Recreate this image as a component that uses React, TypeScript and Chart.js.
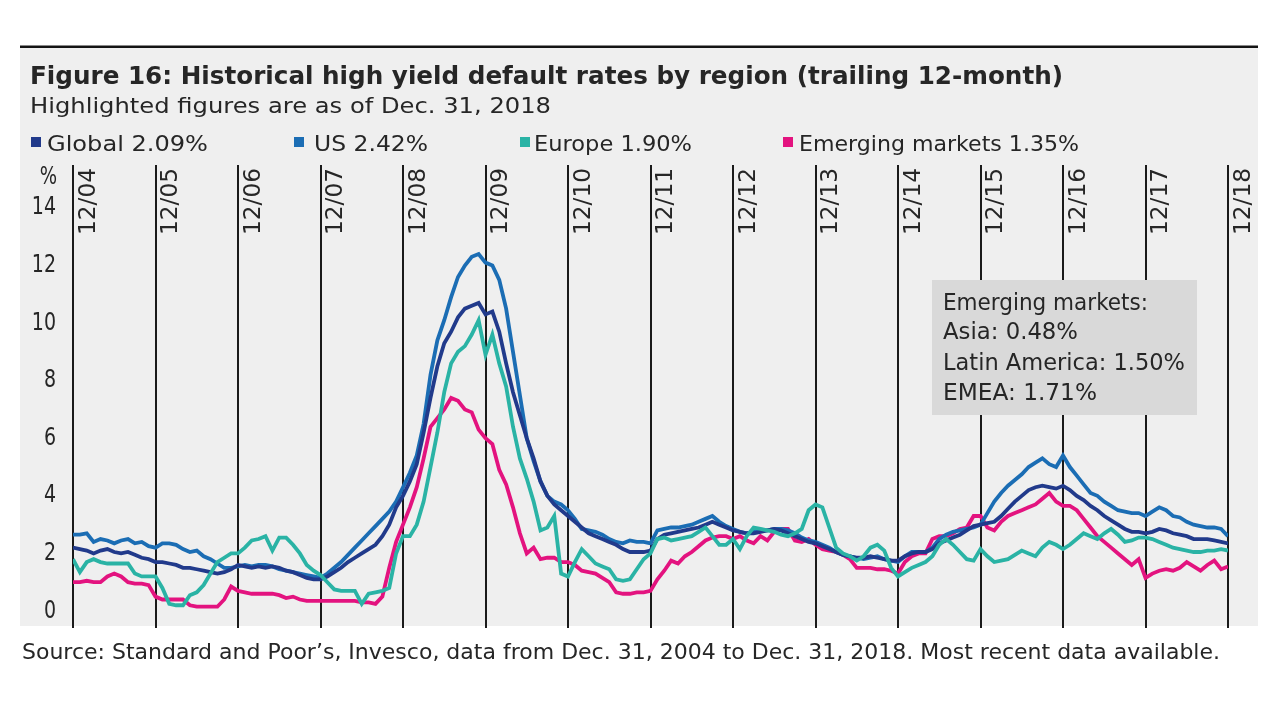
import React, { useEffect, useRef } from "react";
import { Chart, registerables } from "chart.js";

Chart.register(...registerables);

// ---------- DATA ----------
const yearLabels = ["12/04", "12/05", "12/06", "12/07", "12/08", "12/09", "12/10", "12/11", "12/12", "12/13", "12/14", "12/15", "12/16", "12/17", "12/18"];
const yearTickMonths = [0, 12, 24, 36, 48, 60, 72, 84, 96, 108, 120, 132, 144, 156, 168];
const yTicks = [0, 2, 4, 6, 8, 10, 12, 14];

const seriesNames = ["Global", "US", "Europe", "Emerging markets"];
const seriesLatest = ["2.09%", "2.42%", "1.90%", "1.35%"];
const seriesColors = ["#213a8b", "#1b6db4", "#2ab3a5", "#e3137f"];

// monthly, Dec 2004 .. Dec 2018
const globalRates = [
  2.2, 2.15, 2.1, 2.0, 2.1, 2.15, 2.05, 2.0, 2.05, 1.95, 1.85, 1.8,
  1.7, 1.7, 1.65, 1.6, 1.5, 1.5, 1.45, 1.4, 1.35, 1.3, 1.35, 1.45,
  1.6, 1.55, 1.5, 1.55, 1.5, 1.55, 1.5, 1.4, 1.35, 1.25, 1.15, 1.1,
  1.1, 1.2, 1.35, 1.5, 1.7, 1.85, 2.0, 2.15, 2.3, 2.6, 3.0, 3.6,
  4.0, 4.5, 5.1, 6.2, 7.4, 8.5, 9.3, 9.7, 10.2, 10.5, 10.6, 10.7,
  10.3, 10.4, 9.7, 8.6, 7.6, 6.8, 6.0, 5.3, 4.5, 4.0, 3.7, 3.5,
  3.3, 3.1, 2.9, 2.7, 2.6, 2.5, 2.4, 2.3, 2.15, 2.05, 2.05, 2.05,
  2.1, 2.5, 2.65, 2.7, 2.75, 2.8, 2.85, 2.9, 3.0, 3.1, 3.0, 2.9,
  2.8, 2.75, 2.7, 2.7, 2.75, 2.8, 2.85, 2.8, 2.7, 2.6, 2.5, 2.4,
  2.35, 2.25, 2.15, 2.05, 1.95, 1.9, 1.85, 1.85, 1.9, 1.85, 1.8, 1.75,
  1.75, 1.9, 2.0, 2.05, 2.05, 2.15, 2.35, 2.45, 2.55, 2.65, 2.8, 2.95,
  3.0, 3.05, 3.1, 3.3, 3.55, 3.8, 4.0, 4.2, 4.3, 4.35, 4.3, 4.25,
  4.35, 4.2, 4.0, 3.85, 3.65, 3.5, 3.3, 3.15, 3.0, 2.85, 2.75, 2.75,
  2.7, 2.75, 2.85, 2.8, 2.7, 2.65, 2.6, 2.5, 2.5, 2.5, 2.45, 2.4, 2.35,
];

const usRates = [
  2.65, 2.65, 2.7, 2.4, 2.5, 2.45, 2.35, 2.45, 2.5, 2.35, 2.4, 2.25,
  2.2, 2.35, 2.35, 2.3, 2.15, 2.05, 2.1, 1.9, 1.8, 1.65, 1.5, 1.5,
  1.55, 1.6, 1.55, 1.6, 1.6, 1.55, 1.45, 1.4, 1.35, 1.3, 1.25, 1.2,
  1.15, 1.3, 1.5, 1.7, 1.95, 2.2, 2.45, 2.7, 2.95, 3.2, 3.45, 3.8,
  4.3, 4.8, 5.4, 6.5, 8.2, 9.4, 10.1, 10.9, 11.6, 12.0, 12.3, 12.4,
  12.1, 12.0, 11.5, 10.5, 9.0, 7.5, 6.0, 5.2, 4.5, 4.0, 3.8, 3.7,
  3.5, 3.2, 2.85, 2.8, 2.75, 2.65, 2.5, 2.4, 2.35, 2.45, 2.4, 2.4,
  2.35, 2.8, 2.85, 2.9, 2.9, 2.95, 3.0, 3.1, 3.2, 3.3, 3.1, 2.95,
  2.85, 2.75, 2.7, 2.75, 2.8, 2.8, 2.85, 2.85, 2.8, 2.7, 2.55, 2.45,
  2.4, 2.3, 2.2, 2.05, 1.95, 1.9, 1.85, 1.8, 1.85, 1.9, 1.8, 1.75,
  1.7, 1.9, 2.05, 2.05, 2.05, 2.2, 2.5, 2.65, 2.75, 2.8, 2.85, 2.9,
  3.0, 3.4, 3.8, 4.1, 4.35, 4.55, 4.75, 5.0, 5.15, 5.3, 5.1, 5.0,
  5.4, 5.0, 4.7, 4.4, 4.1, 4.0, 3.8, 3.65, 3.5, 3.45, 3.4, 3.4,
  3.3, 3.45, 3.6, 3.5, 3.3, 3.25, 3.1, 3.0, 2.95, 2.9, 2.9, 2.85, 2.6,
];

const europeRates = [
  1.8, 1.35, 1.7, 1.8, 1.7, 1.65, 1.65, 1.65, 1.65, 1.3, 1.2, 1.2,
  1.2, 0.8, 0.25, 0.2, 0.2, 0.55, 0.65, 0.9, 1.3, 1.7, 1.85, 2.0,
  2.0, 2.2, 2.45, 2.5, 2.6, 2.1, 2.55, 2.55, 2.3, 2.0, 1.6, 1.4,
  1.25, 1.0, 0.75, 0.7, 0.7, 0.7, 0.25, 0.6, 0.65, 0.7, 0.8, 2.0,
  2.6, 2.6, 3.0, 3.8, 5.0, 6.2, 7.6, 8.6, 9.0, 9.2, 9.6, 10.1,
  8.9, 9.6, 8.6, 7.8, 6.4, 5.3, 4.6, 3.8, 2.8, 2.9, 3.3, 1.3,
  1.2, 1.7, 2.15, 1.9, 1.65, 1.55, 1.45, 1.1, 1.05, 1.1, 1.45, 1.8,
  2.0, 2.5, 2.55, 2.45, 2.5, 2.55, 2.6, 2.75, 2.9, 2.6, 2.3, 2.3,
  2.5, 2.15, 2.6, 2.9, 2.85, 2.8, 2.75, 2.65, 2.6, 2.7, 2.85, 3.5,
  3.7, 3.6, 2.9, 2.2, 2.0, 1.9, 1.75, 1.9, 2.2, 2.3, 2.1, 1.5,
  1.2, 1.35, 1.5, 1.6, 1.7, 1.9, 2.3, 2.5, 2.3, 2.05, 1.8, 1.75,
  2.15, 1.9, 1.7, 1.75, 1.8, 1.95, 2.1, 2.0, 1.9, 2.2, 2.4, 2.3,
  2.15, 2.3, 2.5, 2.7, 2.6, 2.5, 2.7, 2.85, 2.65, 2.4, 2.45, 2.55,
  2.55, 2.5, 2.4, 2.3, 2.2, 2.15, 2.1, 2.05, 2.05, 2.1, 2.1, 2.15, 2.1,
];

const emergingRates = [
  1.0, 1.0, 1.05, 1.0, 1.0, 1.2, 1.3, 1.2, 1.0, 0.95, 0.95, 0.9,
  0.5, 0.4, 0.4, 0.4, 0.4, 0.2, 0.15, 0.15, 0.15, 0.15, 0.4, 0.85,
  0.7, 0.65, 0.6, 0.6, 0.6, 0.6, 0.55, 0.45, 0.5, 0.4, 0.35, 0.35,
  0.35, 0.35, 0.35, 0.35, 0.35, 0.35, 0.3, 0.3, 0.25, 0.5, 1.5, 2.4,
  3.0, 3.6, 4.3, 5.3, 6.4, 6.7, 7.0, 7.4, 7.3, 7.0, 6.9, 6.3,
  6.0, 5.8, 4.9, 4.4, 3.6, 2.7, 2.0, 2.2, 1.8, 1.85, 1.85, 1.7,
  1.7, 1.6, 1.4, 1.35, 1.3, 1.15, 1.0, 0.65, 0.6, 0.6, 0.65, 0.65,
  0.7, 1.1, 1.4, 1.75, 1.65, 1.9, 2.05, 2.25, 2.45, 2.55, 2.6, 2.6,
  2.5, 2.6, 2.45, 2.35, 2.6, 2.45, 2.75, 2.85, 2.85, 2.45, 2.4, 2.5,
  2.3, 2.15, 2.1, 2.05, 1.95, 1.8, 1.5, 1.5, 1.5, 1.45, 1.45, 1.4,
  1.3, 1.7, 1.9, 2.0, 2.0, 2.5, 2.6, 2.6, 2.7, 2.85, 2.9, 3.3,
  3.3, 2.9, 2.8, 3.1, 3.3, 3.4, 3.5, 3.6, 3.7, 3.9, 4.1, 3.8,
  3.65, 3.65, 3.5, 3.2, 2.9, 2.6, 2.4, 2.2, 2.0, 1.8, 1.6, 1.8,
  1.15, 1.3, 1.4, 1.45, 1.4, 1.5, 1.7, 1.55, 1.4, 1.6, 1.75, 1.45, 1.55,
];

const seriesData = [globalRates, usRates, europeRates, emergingRates];

const titleText = "Figure 16: Historical high yield default rates by region (trailing 12-month)";
const subtitleText = "Highlighted figures are as of Dec. 31, 2018";
const sourceText = "Source: Standard and Poor\u2019s, Invesco, data from Dec. 31, 2004 to Dec. 31, 2018. Most recent data available.";
const boxLines = ["Emerging markets:", "Asia: 0.48%", "Latin America: 1.50%", "EMEA: 1.71%"];

// ---------- helpers ----------
const FONT = "'DejaVu Sans', Verdana, sans-serif";
const TEXT = "#262626";

function fitText(
  ctx: CanvasRenderingContext2D,
  text: string,
  x: number,
  y: number,
  width: number,
  font: string,
  color: string,
  baseline: CanvasTextBaseline = "alphabetic"
) {
  ctx.save();
  ctx.font = font;
  ctx.fillStyle = color;
  ctx.textAlign = "left";
  ctx.textBaseline = baseline;
  const w = ctx.measureText(text).width || 1;
  ctx.translate(x, y);
  ctx.scale(width / w, 1);
  ctx.fillText(text, 0, 0);
  ctx.restore();
}

function scaledTextRight(
  ctx: CanvasRenderingContext2D,
  text: string,
  right: number,
  y: number,
  sx: number,
  font: string,
  color: string
) {
  ctx.save();
  ctx.font = font;
  ctx.fillStyle = color;
  ctx.textAlign = "right";
  ctx.textBaseline = "middle";
  ctx.translate(right, y);
  ctx.scale(sx, 1);
  ctx.fillText(text, 0, 0);
  ctx.restore();
}

const framePlugin = {
  id: "frame",
  beforeDraw(chart: any) {
    const ctx: CanvasRenderingContext2D = chart.ctx;
    ctx.save();
    ctx.fillStyle = "#ffffff";
    ctx.fillRect(0, 0, chart.width, chart.height);
    ctx.fillStyle = "#efefef";
    ctx.fillRect(20, 48, 1238, 578);
    ctx.fillStyle = "#141414";
    ctx.fillRect(20, 45.5, 1238, 2.5);
    ctx.restore();

    fitText(ctx, titleText, 30, 84, 1033, `bold 25px ${FONT}`, TEXT);
    fitText(ctx, subtitleText, 30, 113, 521, `22px ${FONT}`, TEXT);

    const legendX = [31, 294, 520, 783];
    const legendTextX = [47, 314, 534, 799];
    const legendTextW = [161, 114, 158, 280];
    for (let i = 0; i < seriesNames.length; i++) {
      ctx.fillStyle = seriesColors[i];
      ctx.fillRect(legendX[i], 137, 10, 10);
      fitText(ctx, `${seriesNames[i]} ${seriesLatest[i]}`, legendTextX[i], 151, legendTextW[i], `22px ${FONT}`, TEXT);
    }

    fitText(ctx, sourceText, 22, 659, 1198, `22px ${FONT}`, TEXT);

    scaledTextRight(ctx, "%", 57, 178, 0.76, `24px ${FONT}`, TEXT);
    const ys = chart.scales.y;
    yTicks.forEach((v) => {
      scaledTextRight(ctx, String(v), 56, ys.getPixelForValue(v), 0.76, `25px ${FONT}`, TEXT);
    });
  },
  afterDraw(chart: any) {
    const ctx: CanvasRenderingContext2D = chart.ctx;
    const xs = chart.scales.x;
    yearTickMonths.forEach((m, i) => {
      const px = xs.getPixelForValue(m);
      ctx.save();
      ctx.translate(px + 16, 235);
      ctx.rotate(-Math.PI / 2);
      fitText(ctx, yearLabels[i], 0, 0, 67, `23px ${FONT}`, TEXT, "middle");
      ctx.restore();
    });

    ctx.save();
    ctx.fillStyle = "#d9d9d9";
    ctx.fillRect(932, 280, 265, 135);
    ctx.restore();
    const bw = [205, 135, 242, 154];
    const by = [310, 339, 370, 400];
    boxLines.forEach((t, i) => fitText(ctx, t, 943, by[i], bw[i], `23px ${FONT}`, TEXT));
  },
};

export default function App() {
  const ref = useRef<HTMLCanvasElement | null>(null);

  useEffect(() => {
    if (!ref.current) return;
    const chart = new Chart(ref.current, {
      type: "line",
      data: {
        datasets: seriesNames.map((name, i) => ({
          label: name,
          data: seriesData[i].map((v, idx) => ({ x: idx, y: v })),
          borderColor: seriesColors[i],
          backgroundColor: seriesColors[i],
          borderWidth: 3.8,
          pointRadius: 0,
          tension: 0,
          fill: false,
          order: [1, 2, 0, 3][i],
        })),
      },
      options: {
        responsive: false,
        animation: false,
        devicePixelRatio: 1,
        layout: { padding: { left: 20, right: 52, top: 165, bottom: 92 } },
        plugins: { legend: { display: false }, tooltip: { enabled: false } },
        scales: {
          x: {
            type: "linear",
            min: 0,
            max: 168,
            afterBuildTicks: (s: any) => {
              s.ticks = yearTickMonths.map((v) => ({ value: v }));
            },
            afterFit: (s: any) => {
              s.height = 0;
              s.paddingLeft = 0;
              s.paddingRight = 0;
            },
            grid: { color: "#1a1a1a", lineWidth: 2, drawTicks: false },
            border: { display: false },
            ticks: { display: false },
          },
          y: {
            min: -0.59,
            max: 15.49,
            afterBuildTicks: (s: any) => {
              s.ticks = yTicks.map((v) => ({ value: v }));
            },
            afterFit: (s: any) => {
              s.width = 53;
              s.paddingTop = 0;
              s.paddingBottom = 0;
            },
            grid: { display: false, drawTicks: false },
            border: { display: false },
            ticks: { display: false },
          },
        },
      },
      plugins: [framePlugin],
    } as any);
    return () => chart.destroy();
  }, []);

  return (
    <div style={{ position: "fixed", left: 0, top: 0, width: 1280, height: 720, background: "#fff" }}>
      <canvas ref={ref} width={1280} height={720} style={{ display: "block", width: 1280, height: 720 }} />
    </div>
  );
}
